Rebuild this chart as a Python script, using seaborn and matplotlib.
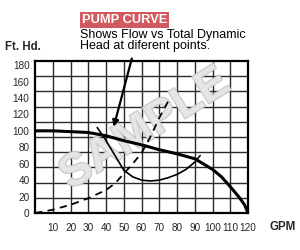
import matplotlib
matplotlib.use("Agg")
import matplotlib.pyplot as plt
import matplotlib.patheffects as pe
import numpy as np
import pandas as pd
import seaborn as sns

# ---- data ----
pump_gpm = [0, 10, 20, 30, 40, 50, 60, 70, 80, 90, 100, 105, 110, 115, 118, 120]
pump_head = [100, 100, 99, 98, 94, 88, 83, 77, 72, 66, 53, 44, 32, 19, 10, 0]

eff_gpm = [35, 40, 45, 50, 55, 60, 65, 70, 75, 80, 85, 90, 93]
eff_head = [104, 88, 70, 52, 44, 40, 39, 40, 43, 47, 53, 62, 70]

sys_gpm = [0, 10, 20, 30, 40, 45, 50, 55, 60, 65, 70, 76]
sys_head = [0, 4, 10, 18, 28, 36, 48, 60, 73, 93, 116, 140]

x_ticks = [10, 20, 30, 40, 50, 60, 70, 80, 90, 100, 110, 120]
y_ticks = [0, 20, 40, 60, 80, 100, 120, 140, 160, 180]

sns.set_theme(style="white")
plt.rcParams['font.family'] = ['Liberation Sans', 'DejaVu Sans']

fig = plt.figure(figsize=(3.0, 2.5), dpi=100)
ax = fig.add_axes([0.117, 0.148, 0.71, 0.608])

pump = pd.DataFrame({"gpm": pump_gpm, "head": pump_head})
eff = pd.DataFrame({"gpm": eff_gpm, "head": eff_head})
syst = pd.DataFrame({"gpm": sys_gpm, "head": sys_head})

sns.lineplot(data=pump, x="gpm", y="head", ax=ax, color="black", lw=2.2, sort=False, zorder=5)
sns.lineplot(data=eff, x="gpm", y="head", ax=ax, color="black", lw=1.2, sort=False, zorder=5)
sns.lineplot(data=syst, x="gpm", y="head", ax=ax, color="black", lw=1.3, sort=False,
             dashes=False, zorder=5)
ax.lines[-1].set_dashes((4, 3))

ax.set_xlim(0, 120)
ax.set_ylim(0, 185)
ax.set_xticks(x_ticks)
ax.set_yticks(y_ticks)

# chart paper grid: 12 columns x 10 rows
for gx in np.arange(10, 120, 10):
    ax.axvline(gx, color="#2a2a2a", lw=1.0, zorder=1)
for gy in np.linspace(0, 185, 11)[1:-1]:
    ax.axhline(gy, color="#2a2a2a", lw=1.0, zorder=1)

ax.tick_params(which="both", length=0)
ax.tick_params(axis="x", pad=7, labelsize=7.2)
ax.tick_params(axis="y", pad=4, labelsize=7.2)
ax.set_xlabel("")
ax.set_ylabel("")
for s in ax.spines.values():
    s.set_color("black")
    s.set_linewidth(1.6)

# watermark
ax.text(62, 102, "SAMPLE", rotation=32, fontsize=33, fontweight="bold",
        color="#e6e6e6", alpha=0.92, ha="center", va="center", zorder=3,
        path_effects=[pe.withStroke(linewidth=1.5, foreground="#c2c2c2")])

# arrow
ax.annotate("", xy=(44.3, 105), xytext=(54.5, 188),
            arrowprops=dict(arrowstyle="-|>", lw=1.6, color="black",
                            mutation_scale=9, shrinkA=0, shrinkB=0),
            annotation_clip=False, zorder=6)

# titles
fig.text(0.272, 0.92, "PUMP CURVE", fontsize=9.3, fontweight="bold", color="white",
         ha="left", va="center",
         bbox=dict(boxstyle="square,pad=0.15", fc="#d05a5f", ec="none"))
fig.text(0.268, 0.885, "Shows Flow vs Total Dynamic\nHead at diferent points.",
         fontsize=9.0, color="black", ha="left", va="top", linespacing=0.92)
fig.text(0.018, 0.81, "Ft. Hd.", fontsize=8.3, fontweight="bold", ha="left", va="center")
fig.text(0.9, 0.092, "GPM", fontsize=8.3, fontweight="bold", ha="left", va="center")

fig.savefig("out.png", dpi=100)
